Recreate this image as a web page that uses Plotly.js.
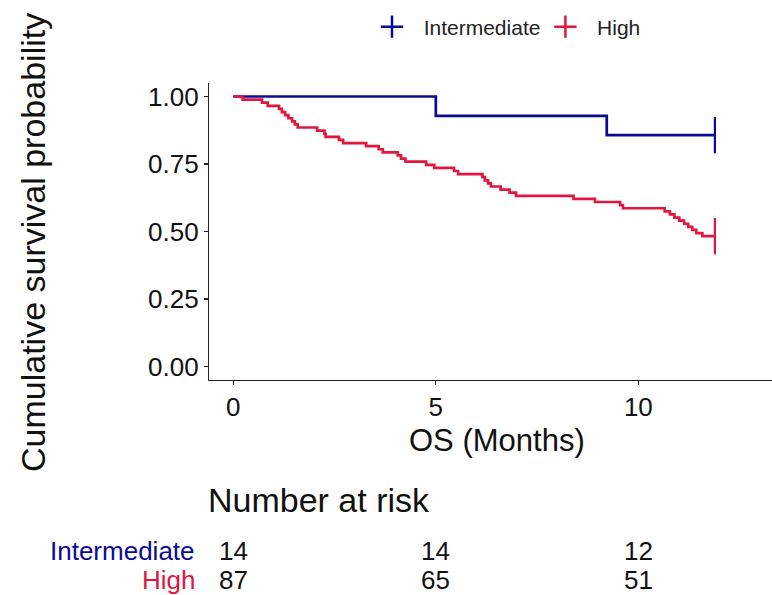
<!DOCTYPE html>
<html>
<head>
<meta charset="utf-8">
<script src="https://cdn.plot.ly/plotly-3.0.1.min.js"></script>
<style>html,body{margin:0;padding:0;background:#fff;}#chart{width:772px;height:595px;}</style>
</head>
<body>
<div id="chart"></div>
<script>
// Kaplan-Meier step data (event times in months, survival after event)
var groups = ["Intermediate", "High"];
var colors = ["#0a0a96", "#e0173f"];

var timeInter = [0, 5.0, 9.22, 11.89];
var survInter = [1.0, 0.9286, 0.8571, 0.8571];

var timeHigh = [0, 0.23, 0.71, 0.85, 1.13, 1.20, 1.28, 1.36, 1.45, 1.52, 1.59,
  2.07, 2.25, 2.28, 2.61, 2.71, 3.28, 3.59, 3.69, 4.06, 4.14, 4.25, 4.76, 4.96,
  5.45, 5.55, 6.15, 6.21, 6.29, 6.36, 6.60, 6.82, 6.98, 8.40, 8.93, 9.55, 9.62,
  10.65, 10.78, 10.89, 11.01, 11.13, 11.23, 11.33, 11.43, 11.58, 11.89];
var survHigh = [1.0, 0.9885, 0.9770, 0.9655, 0.9540, 0.9425, 0.9310, 0.9195, 0.9080, 0.8966, 0.8851,
  0.8736, 0.8621, 0.8506, 0.8391, 0.8276, 0.8161, 0.8046, 0.7931, 0.7816, 0.7701, 0.7586, 0.7471, 0.7356,
  0.7241, 0.7126, 0.7011, 0.6897, 0.6782, 0.6667, 0.6552, 0.6437, 0.6322, 0.6207, 0.6092, 0.5977, 0.5862,
  0.5747, 0.5632, 0.5517, 0.5402, 0.5287, 0.5172, 0.5057, 0.4943, 0.4828, 0.4828];

var censorTime = [11.89, 11.89];
var censorSurv = [0.8571, 0.4828];

var riskTimes = [0, 5, 10];
var riskInter = [14, 14, 12];
var riskHigh = [87, 65, 51];

var yTicks = [0, 0.25, 0.5, 0.75, 1.0];
var yTickText = ["0.00", "0.25", "0.50", "0.75", "1.00"];
var xTicks = [0, 5, 10];

var FONT = "Liberation Sans, Arial, Helvetica, sans-serif";
var LW = 2.7;

var traces = [
  {x: timeInter, y: survInter, mode: "lines", line: {shape: "hv", color: colors[0], width: LW}, showlegend: false, hoverinfo: "skip"},
  {x: timeHigh, y: survHigh, mode: "lines", line: {shape: "hv", color: colors[1], width: LW}, showlegend: false, hoverinfo: "skip"},
  {x: [censorTime[0]], y: [censorSurv[0]], mode: "markers", marker: {symbol: "line-ns-open", size: 26, color: colors[0], line: {color: colors[0], width: 2.2}}, showlegend: false, hoverinfo: "skip"},
  {x: [censorTime[1]], y: [censorSurv[1]], mode: "markers", marker: {symbol: "line-ns-open", size: 26, color: colors[1], line: {color: colors[1], width: 2.2}}, showlegend: false, hoverinfo: "skip"},
  {x: [null], y: [null], mode: "markers", name: "\u00A0\u00A0" + groups[0], marker: {symbol: "cross-thin-open", size: 16, color: colors[0], line: {color: colors[0], width: 2.5}}},
  {x: [null], y: [null], mode: "markers", name: "\u00A0\u00A0" + groups[1], marker: {symbol: "cross-thin-open", size: 16, color: colors[1], line: {color: colors[1], width: 2.5}}}
];

var PL = 209, PR = 772, PT = 83, PB = 380;
function px2x(px) { return (px - PL) / (PR - PL); }
function py2y(py) { return (PB - py) / (PB - PT); }

var annotations = [
  {text: "Cumulative survival probability", xref: "paper", yref: "paper", x: px2x(33), y: py2y(242), textangle: -90, showarrow: false, font: {family: FONT, size: 34, color: "#111"}, xanchor: "center", yanchor: "middle"},
  {text: "OS (Months)", xref: "paper", yref: "paper", x: px2x(497), y: py2y(440), showarrow: false, font: {family: FONT, size: 31, color: "#111"}, xanchor: "center", yanchor: "middle"},
  {text: "Number at risk", xref: "paper", yref: "paper", x: px2x(206), y: py2y(500), showarrow: false, font: {family: FONT, size: 34, color: "#111"}, xanchor: "left", yanchor: "middle"},
  {text: groups[0], xref: "paper", yref: "paper", x: px2x(197), y: py2y(551), showarrow: false, font: {family: FONT, size: 26, color: colors[0]}, xanchor: "right", yanchor: "middle"},
  {text: groups[1], xref: "paper", yref: "paper", x: px2x(197), y: py2y(580), showarrow: false, font: {family: FONT, size: 26, color: colors[1]}, xanchor: "right", yanchor: "middle"}
];
for (var i = 0; i < riskTimes.length; i++) {
  annotations.push({text: String(riskInter[i]), xref: "x", yref: "paper", x: riskTimes[i], y: py2y(551), showarrow: false, font: {family: FONT, size: 26, color: "#111"}, xanchor: "center", yanchor: "middle"});
  annotations.push({text: String(riskHigh[i]), xref: "x", yref: "paper", x: riskTimes[i], y: py2y(580), showarrow: false, font: {family: FONT, size: 26, color: "#111"}, xanchor: "center", yanchor: "middle"});
}

var layout = {
  width: 772, height: 595,
  margin: {l: PL, r: 772 - PR, t: PT, b: 595 - PB, pad: 0},
  paper_bgcolor: "#fff", plot_bgcolor: "#fff",
  font: {family: FONT, color: "#111"},
  xaxis: {range: [-0.6, 13.3], tickvals: xTicks, ticktext: xTicks.map(String), showgrid: false, zeroline: false,
    showline: true, linecolor: "#222", linewidth: 1.2, ticks: "outside", ticklen: 4, tickcolor: "#222", tickwidth: 1.2,
    tickfont: {family: FONT, size: 26, color: "#111"}},
  yaxis: {range: [-0.05, 1.05], tickvals: yTicks, ticktext: yTickText, showgrid: false, zeroline: false,
    showline: true, linecolor: "#222", linewidth: 1.2, ticks: "outside", ticklen: 4, tickcolor: "#222", tickwidth: 1.2,
    tickfont: {family: FONT, size: 26, color: "#111"}},
  showlegend: true,
  legend: {orientation: "h", x: px2x(372), xanchor: "left", y: py2y(27), yanchor: "middle", font: {family: FONT, size: 21, color: "#222"}, bgcolor: "rgba(0,0,0,0)", itemclick: false},
  annotations: annotations
};

Plotly.newPlot("chart", traces, layout, {staticPlot: true, displayModeBar: false});
</script>
</body>
</html>
